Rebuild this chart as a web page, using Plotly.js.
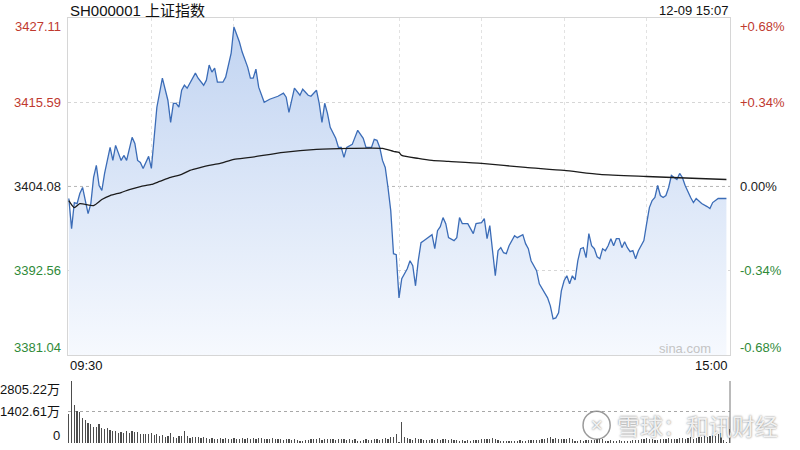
<!DOCTYPE html>
<html>
<head>
<meta charset="utf-8">
<script src="https://cdn.plot.ly/plotly-3.0.1.min.js"></script>
<style>html,body{margin:0;padding:0;background:#fff;}#chart{width:800px;height:450px;}</style>
</head>
<body>
<div id="chart"></div>
<script>
// ---- data ----
const titleText = 'SH000001 上证指数';
const stampText = '12-09 15:07';
const prevClose = 3404.08;
const priceTicks = [3427.11, 3415.59, 3404.08, 3392.56, 3381.04];
const pctTicks = ['+0.68%', '+0.34%', '0.00%', '-0.34%', '-0.68%'];
const volTicks = [2805.22, 1402.61, 0];
const volTickText = ['2805.22万', '1402.61万', '0'];
const timeLabels = ['09:30', '15:00'];

// minutes since 09:30 (trading minutes, 0..240) and index price
const priceMinute = [0,1,2,3,4,5,6,7,8,9,10,11,12,13,15,16,17,19,20,21,23,24,25,26,27,29,30,32,34,36,37,38,39,40,41,42,43,45,46,47,49,50,51,52,53,54,56,57,59,60,62,63,65,66,67,68,69,71,73,76,78,79,80,82,83,84,85,87,88,90,91,92,93,94,95,97,98,99,100,101,103,105,107,108,110,111,112,113,114,115,116,117,118,119,120,121,123,124,125,126,127,128,129,130,132,133,134,135,136,137,138,140,141,142,143,145,146,147,148,150,151,152,153,154,155,156,157,158,159,160,162,163,165,166,167,168,170,171,173,174,175,176,177,178,179,180,181,182,183,184,185,186,187,188,189,190,191,192,193,194,195,196,197,198,199,200,201,202,203,204,205,206,207,208,209,210,211,212,213,214,215,216,217,218,219,221,222,223,224,226,227,228,230,232,233,234,235,236,239];
const priceValue = [3402.43,3398.31,3401.88,3401.74,3403.11,3403.94,3402.15,3400.37,3401.74,3405.31,3406.95,3404.21,3403.53,3405.86,3409.42,3407.64,3409.70,3407.64,3408.32,3407.64,3410.79,3409.97,3407.64,3407.36,3406.54,3408.19,3406.54,3414.91,3418.88,3415.87,3412.85,3415.45,3415.45,3414.91,3417.24,3417.92,3417.51,3419.02,3419.57,3418.88,3417.92,3418.61,3420.67,3419.71,3420.25,3418.33,3418.33,3419.02,3422.31,3425.88,3423.82,3422.45,3420.39,3418.88,3418.88,3420.12,3417.65,3415.59,3416.00,3416.41,3416.83,3416.28,3414.22,3417.51,3417.10,3416.55,3417.37,3416.55,3416.41,3417.24,3415.45,3412.85,3415.45,3414.08,3412.16,3410.66,3409.42,3409.42,3408.05,3409.42,3409.83,3411.75,3410.66,3409.42,3409.42,3410.52,3410.38,3409.42,3407.64,3406.68,3403.94,3400.78,3394.89,3394.75,3388.85,3391.46,3392.83,3393.93,3393.24,3390.50,3393.93,3396.39,3396.67,3396.94,3397.49,3395.57,3398.04,3398.59,3399.82,3399.00,3397.08,3396.67,3397.08,3399.82,3399.00,3399.00,3398.31,3397.63,3399.00,3399.14,3399.69,3396.94,3398.73,3395.30,3391.87,3395.30,3395.71,3395.02,3394.89,3395.98,3397.35,3397.08,3397.49,3396.26,3395.57,3393.93,3392.56,3390.77,3389.54,3388.85,3387.76,3385.97,3386.11,3386.80,3389.81,3391.18,3391.87,3390.77,3391.87,3391.32,3393.93,3395.57,3395.71,3394.34,3397.63,3395.98,3395.57,3394.47,3394.20,3395.57,3395.30,3395.98,3396.94,3395.98,3396.94,3396.94,3395.71,3396.53,3395.71,3395.16,3395.30,3394.20,3395.30,3395.98,3396.67,3399.00,3401.19,3402.15,3402.57,3404.21,3402.84,3402.57,3402.84,3403.94,3405.58,3405.03,3405.86,3405.31,3404.21,3402.57,3401.88,3402.43,3401.74,3401.33,3401.06,3401.88,3402.15,3402.43,3402.43];

// average price line (sampled)
const avgMinute = [0,2,4,9,12,15,19,22,26,30,33,37,41,44,48,51,55,60,66,78,90,102,114,118,120,121,127,132,138,150,166,180,193,210,229,239];
const avgValue = [3402.15,3401.19,3401.74,3401.47,3402.29,3402.84,3403.25,3403.66,3404.07,3404.35,3404.76,3405.31,3405.72,3406.27,3406.68,3406.95,3407.23,3407.78,3408.05,3408.74,3409.15,3409.28,3409.28,3408.87,3408.73,3408.32,3407.91,3407.64,3407.50,3407.23,3406.68,3406.27,3405.72,3405.44,3405.17,3405.03];

// volume per minute (万)
const volume = [
1330,2805.22,1740,1440,1410,1140,1060,910,880,730,
730,860,680,640,680,610,560,530,455,485,
455,530,455,530,485,500,420,390,420,390,
455,360,420,300,380,270,330,455,270,230,
300,330,530,330,230,250,250,260,220,260,
210,200,230,190,200,210,180,230,200,190,
230,170,180,230,200,210,180,220,190,230,
210,170,190,200,210,170,180,200,150,160,
170,150,180,120,110,100,140,130,190,200,
180,210,130,180,170,200,180,120,200,190,
160,120,160,140,170,110,100,140,190,120,
150,180,200,150,180,230,180,260,290,410,
40,940,260,210,190,150,210,200,180,150,
140,140,160,150,160,150,180,170,130,180,
150,120,100,130,110,120,110,130,120,150,
160,190,170,200,230,190,140,100,90,110,
100,90,100,110,120,90,110,130,150,120,
140,150,180,160,230,260,200,230,170,190,
200,160,210,180,100,110,120,110,130,150,
140,120,170,200,160,110,100,120,110,100,
120,110,90,110,100,130,150,120,200,190,
210,180,170,140,150,200,190,180,210,200,
170,190,220,210,180,220,250,200,230,280,
260,300,250,330,360,300,420,450,120,60,
640];
const volMinute = volume.map((_, i) => i);
const gridMinutes = [30, 60, 90, 120, 150, 180, 210];

// ---- styling ----
const FONT = 'Liberation Sans, Arial, "Noto Sans CJK SC", sans-serif';
const RED = '#c0392f', GREEN = '#2f8a38', BLACK = '#222';
const tickColors = [RED, RED, BLACK, GREEN, GREEN];
const tickShift = [-8, 0, 0, 0, 7];

const yMin = priceTicks[priceTicks.length - 1], yMax = priceTicks[0];

const traces = [
  { x: [priceMinute[0], priceMinute[priceMinute.length - 1]], y: [yMin, yMin], mode: 'lines',
    line: { width: 0, color: 'rgba(0,0,0,0)' }, hoverinfo: 'skip', xaxis: 'x', yaxis: 'y' },
  { x: priceMinute, y: priceValue, mode: 'lines', fill: 'tonexty',
    fillgradient: { type: 'vertical', start: yMin, stop: yMax,
      colorscale: [[0, 'rgba(246,249,254,1)'], [1, 'rgba(192,211,241,1)']] },
    line: { color: '#3b6cb7', width: 1.3 }, xaxis: 'x', yaxis: 'y' },
  { x: avgMinute, y: avgValue, mode: 'lines', line: { color: '#1c1c1c', width: 1.3, shape: 'spline', smoothing: 0.6 },
    xaxis: 'x', yaxis: 'y' },
  { x: volMinute, y: volume, type: 'bar', width: 0.45, marker: { color: '#4d4d4d', line: { width: 0 } },
    xaxis: 'x2', yaxis: 'y2' }
];

const annotations = [];
priceTicks.forEach((v, i) => {
  annotations.push({ xref: 'paper', yref: 'y', x: 0, y: v, xanchor: 'right', yanchor: 'middle', xshift: -5, yshift: tickShift[i],
    text: v.toFixed(2), showarrow: false, font: { family: FONT, size: 13, color: tickColors[i] } });
  annotations.push({ xref: 'paper', yref: 'y', x: 1, y: v, xanchor: 'left', yanchor: 'middle', xshift: 8, yshift: tickShift[i],
    text: pctTicks[i], showarrow: false, font: { family: FONT, size: 13, color: tickColors[i] } });
});
const volShift = [-9, 0, 8];
volTicks.forEach((v, i) => {
  annotations.push({ xref: 'paper', yref: 'y2', x: 0, y: v, xanchor: 'right', yanchor: 'middle', xshift: -6, yshift: volShift[i],
    text: volTickText[i], showarrow: false, font: { family: FONT, size: 13, color: '#111' } });
});
annotations.push({ xref: 'paper', yref: 'paper', x: 0, y: 1.0188, xanchor: 'left', yanchor: 'middle',
  text: titleText, showarrow: false, font: { family: FONT, size: 15, color: '#111' } });
annotations.push({ xref: 'paper', yref: 'paper', x: 1, y: 1.0188, xanchor: 'right', yanchor: 'middle',
  text: stampText, showarrow: false, font: { family: FONT, size: 13, color: '#111' } });
annotations.push({ xref: 'paper', yref: 'paper', x: 0, y: 0.1812, xanchor: 'left', yanchor: 'middle',
  text: timeLabels[0], showarrow: false, font: { family: FONT, size: 13, color: '#111' } });
annotations.push({ xref: 'paper', yref: 'paper', x: 1, y: 0.1812, xanchor: 'right', yanchor: 'middle',
  text: timeLabels[1], showarrow: false, font: { family: FONT, size: 13, color: '#111' } });
annotations.push({ xref: 'paper', yref: 'paper', x: 0.975, y: 0.2215, xanchor: 'right', yanchor: 'middle',
  text: 'sina.com', showarrow: false, font: { family: FONT, size: 13, color: '#c4c4c4' } });
// watermark
annotations.push({ xref: 'paper', yref: 'paper', x: 0.826, y: 0.042, xanchor: 'left', yanchor: 'middle',
  text: '雪球：和讯财经', showarrow: false,
  font: { family: '"Noto Sans CJK SC", sans-serif', size: 23, color: 'rgba(250,250,250,0.92)', shadow: '0px 0px 2px rgba(60,60,60,0.8)' } });
annotations.push({ xref: 'paper', yref: 'paper', x: 0.7985, y: 0.042, xanchor: 'center', yanchor: 'middle',
  text: '✕', showarrow: false,
  font: { family: 'DejaVu Sans, sans-serif', size: 16, color: 'rgba(250,250,250,0.92)', shadow: '0px 0px 2px rgba(60,60,60,0.8)' } });

const shapes = [
  { type: 'line', xref: 'paper', yref: 'y', x0: 0, x1: 1, y0: prevClose, y1: prevClose,
    line: { color: '#b5b5b5', width: 1, dash: '3px,3px' }, layer: 'below' },
  { type: 'line', xref: 'paper', yref: 'y2 domain', x0: 1, x1: 1, y0: 0, y1: 1,
    line: { color: '#777', width: 1 } },
  { type: 'circle', xref: 'paper', yref: 'paper', x0: 0.778, x1: 0.819, y0: 0.009, y1: 0.075,
    line: { color: 'rgba(120,120,120,0.75)', width: 1.5 }, fillcolor: 'rgba(255,255,255,0.5)' }
];

const layout = {
  width: 800, height: 450,
  margin: { l: 68, r: 70, t: 18, b: 7 },
  paper_bgcolor: '#fff', plot_bgcolor: 'rgba(0,0,0,0)',
  showlegend: false, hovermode: false, bargap: 0,
  xaxis: { domain: [0, 1], anchor: 'y', range: [-0.3, 240.3], tickvals: gridMinutes, showticklabels: false, ticks: '',
    showgrid: true, gridcolor: '#e2e2e2', griddash: 'dot', gridwidth: 1, zeroline: false,
    showline: true, mirror: true, linecolor: '#d6d6d6', linewidth: 1 },
  yaxis: { domain: [0.2071, 1], anchor: 'x', range: [yMin, yMax], tickvals: [priceTicks[1], priceTicks[3]], showticklabels: false, ticks: '',
    showgrid: true, gridcolor: '#d6d6d6', griddash: 'dot', zeroline: false,
    showline: true, mirror: true, linecolor: '#d6d6d6', linewidth: 1 },
  xaxis2: { domain: [0, 1], anchor: 'y2', range: [-0.3, 240.3], showticklabels: false, ticks: '', showgrid: false,
    zeroline: false, showline: false },
  yaxis2: { domain: [0, 0.1459], anchor: 'x2', range: [0, volTicks[0]], tickvals: [volTicks[0], volTicks[1]],
    showticklabels: false, ticks: '', showgrid: true, gridcolor: '#a8a8a8', griddash: 'dot', zeroline: false, showline: false },
  annotations: annotations,
  shapes: shapes
};

Plotly.newPlot('chart', traces, layout, { staticPlot: true, displayModeBar: false });
</script>
</body>
</html>
